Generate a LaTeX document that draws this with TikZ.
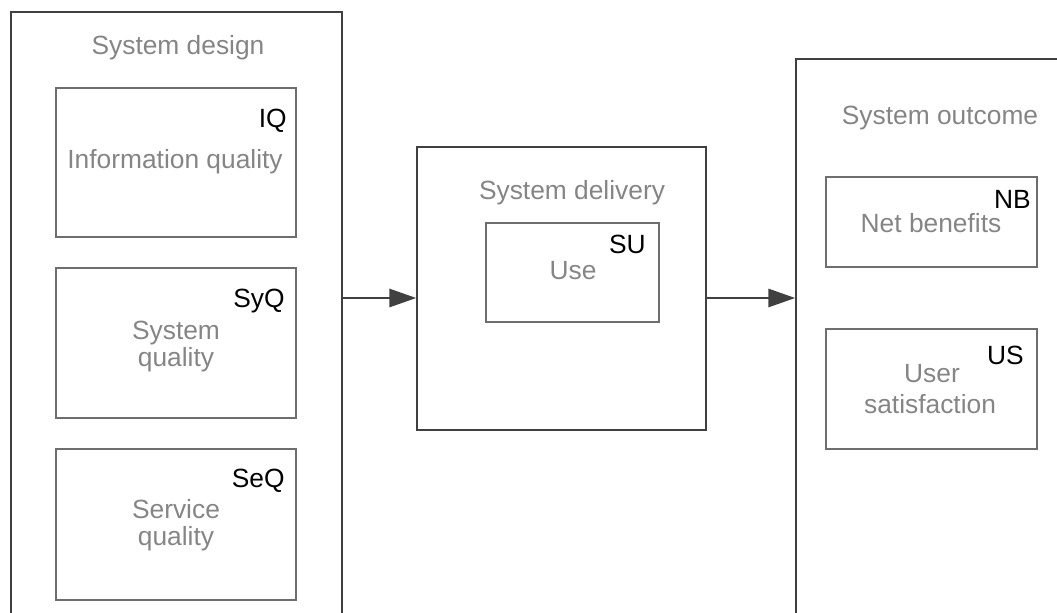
\documentclass[tikz,border=0pt]{standalone}
\usepackage{fontspec}
\setmainfont{Liberation Sans}
\usetikzlibrary{arrows.meta,positioning}
\definecolor{edgegray}{HTML}{404040}
\definecolor{boxgray}{HTML}{6E6E6E}
\definecolor{textgray}{HTML}{858585}

\begin{document}
\begin{tikzpicture}[
  x=0.02cm, y=-0.02cm,
  >={Triangle[length=5.4mm,width=3.6mm]},
  grp/.style={draw=edgegray,line width=0.8pt,inner sep=0pt},
  fac/.style={draw=boxgray,line width=0.7pt,inner sep=0pt},
  ttl/.style={text=textgray,font=\fontsize{15}{18}\selectfont,anchor=base,inner sep=0pt},
  lbl/.style={text=black,font=\fontsize{15}{18}\selectfont,anchor=base east,inner sep=0pt},
  flow/.style={->,line width=1.7pt,edgegray}
]
\useasboundingbox (0,0) rectangle (1057,612);
\clip (0,0) rectangle (1057,612);

% outer groups
\node[grp,minimum width=6.62cm,minimum height=12.56cm] (design)   at (176.5,326)   {};
\node[grp,minimum width=5.78cm,minimum height=5.66cm]  (delivery) at (561.5,288.5) {};
\node[grp,minimum width=5.68cm,minimum height=12.66cm] (outcome)  at (938,375.5)   {};

\node[ttl] (designT)   at (178,54)  {System design};
\node[ttl] (deliveryT) at (572,199) {System delivery};
\node[ttl] (outcomeT)  at (940,124) {System outcome};

% system design factors
\node[fac,minimum width=4.8cm,minimum height=2.98cm] (iq)  at (176,162.5) {};
\node[fac,minimum width=4.8cm,minimum height=3.0cm]  (syq) at (176,343)   {};
\node[fac,minimum width=4.8cm,minimum height=3.02cm] (seq) at (176,524.5) {};

\node[lbl] (iqL)  at (287,127) {IQ};
\node[ttl] (iqT)  at (175,168) {Information quality};
\node[lbl] (syqL) at (285,307) {SyQ};
\node[ttl] (syqT) at (176,339) {System};
\node[ttl] (syqU) at (176,366) {quality};
\node[lbl] (seqL) at (285,487) {SeQ};
\node[ttl] (seqT) at (176,518) {Service};
\node[ttl] (seqU) at (176,545) {quality};

% system delivery
\node[fac,minimum width=3.46cm,minimum height=1.98cm] (su) at (572.5,272.5) {};
\node[lbl] (suL) at (646,253) {SU};
\node[ttl] (suT) at (573,279) {Use};

% system outcome
\node[fac,minimum width=4.22cm,minimum height=1.8cm] (nb) at (931.5,222) {};
\node[fac,minimum width=4.22cm,minimum height=2.4cm] (us) at (931.5,389) {};

\node[lbl] (nbL) at (1031,208) {NB};
\node[ttl] (nbT) at (931,232) {Net benefits};
\node[lbl] (usL) at (1024,364) {US};
\node[ttl] (usT) at (932,382) {User};
\node[ttl] (usU) at (930,413) {satisfaction};

% flows
\coordinate (lvl) at (0,298);
\draw[flow] (design.east |- lvl) -- (delivery.west |- lvl);
\draw[flow] (delivery.east |- lvl) -- (outcome.west |- lvl);
\end{tikzpicture}
\end{document}
